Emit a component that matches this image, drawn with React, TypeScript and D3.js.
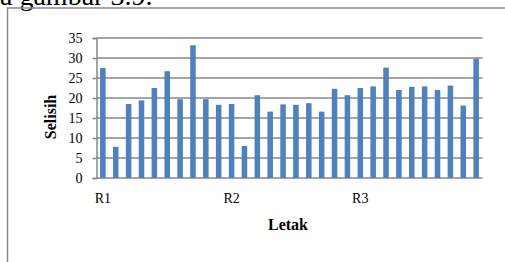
import * as d3 from 'd3';
import { useEffect, useRef } from 'react';

// one bar per position
const positions: number[] = d3.range(1, 31);
const selisih: number[] = [
    27.5, 7.8, 18.5, 19.4, 22.5, 26.7, 19.7, 33.2, 19.7, 18.3,
    18.5, 8.0, 20.7, 16.6, 18.4, 18.3, 18.7, 16.6, 22.3, 20.7,
    22.5, 22.9, 27.6, 22.0, 22.8, 22.9, 22.0, 23.1, 18.1, 29.8,
];
const groupLabels: string[] = ['R1', 'R2', 'R3'];
const groupStarts: number[] = [1, 11, 21];
const yTicks: number[] = [0, 5, 10, 15, 20, 25, 30, 35];

export default function App() {
    const svgRef = useRef<SVGSVGElement>(null);
    const width = 505;
    const height = 262;
    const plot = { left: 96.5, right: 482.5, top: 38, bottom: 178 };

    useEffect(() => {
        const svg = d3.select(svgRef.current);
        svg.selectAll('*').remove();

        const xScale = d3.scaleBand<number>()
            .domain(positions)
            .range([plot.left, plot.right])
            .paddingInner(0.57)
            .paddingOuter(0.28);
        const yScale = d3.scaleLinear().domain([0, 35]).range([plot.bottom, plot.top]);

        svg.append('rect')
            .attr('width', width)
            .attr('height', height)
            .attr('fill', 'white');

        // caption text of the page, cut off at the top
        svg.append('text')
            .attr('x', 0)
            .attr('y', 5)
            .style('font-family', '"Liberation Serif", serif')
            .style('font-size', '28px')
            .attr('fill', '#000')
            .text('a gambar 3.9.');

        // chart frame
        svg.append('rect')
            .attr('x', 7.5)
            .attr('y', 8)
            .attr('width', 520)
            .attr('height', 300)
            .attr('fill', 'none')
            .attr('stroke', '#8a8a8a')
            .attr('stroke-width', 1.5);

        // gridlines
        svg.append('g')
            .selectAll('line')
            .data(yTicks)
            .enter()
            .append('line')
            .attr('x1', plot.left)
            .attr('x2', plot.right)
            .attr('y1', (t) => yScale(t))
            .attr('y2', (t) => yScale(t))
            .attr('stroke', '#878787')
            .attr('stroke-width', 1.5);

        const yAxis = svg.append('g')
            .attr('transform', `translate(${plot.left}, 0)`)
            .call(d3.axisLeft(yScale).tickValues(yTicks).tickSize(4).tickPadding(10));
        yAxis.selectAll('line').attr('stroke', '#878787').attr('stroke-width', 1.5);
        yAxis.select('.domain').attr('stroke', '#878787').attr('stroke-width', 1.5);
        yAxis.selectAll('text')
            .style('font-family', '"Liberation Serif", serif')
            .style('font-size', '14px')
            .attr('fill', '#000');

        svg.append('g')
            .selectAll('.bar')
            .data(positions)
            .enter()
            .append('rect')
            .attr('class', 'bar')
            .attr('x', (p) => xScale(p) || 0)
            .attr('y', (p) => yScale(selisih[p - 1]))
            .attr('width', xScale.bandwidth())
            .attr('height', (p) => plot.bottom - yScale(selisih[p - 1]))
            .attr('fill', '#4f81bd');

        const xAxis = svg.append('g')
            .attr('transform', `translate(0, ${plot.bottom})`)
            .call(d3.axisBottom(xScale)
                .tickValues(groupStarts)
                .tickFormat((d) => groupLabels[groupStarts.indexOf(d as number)])
                .tickSize(0)
                .tickPadding(15));
        xAxis.select('.domain').remove();
        xAxis.selectAll('text')
            .style('font-family', '"Liberation Serif", serif')
            .style('font-size', '14px')
            .attr('fill', '#000');

        svg.append('text')
            .attr('x', 288)
            .attr('y', 230)
            .attr('text-anchor', 'middle')
            .style('font-family', '"Liberation Serif", serif')
            .style('font-size', '16px')
            .style('font-weight', 'bold')
            .text('Letak');

        svg.append('text')
            .attr('transform', 'rotate(-90)')
            .attr('x', -117)
            .attr('y', 56)
            .attr('text-anchor', 'middle')
            .style('font-family', '"Liberation Serif", serif')
            .style('font-size', '16px')
            .style('font-weight', 'bold')
            .text('Selisih');
    }, []);

    return (
        <svg
            ref={svgRef}
            width={width}
            height={height}
            style={{ position: 'absolute', left: 0, top: 0, display: 'block' }}
        ></svg>
    );
}
